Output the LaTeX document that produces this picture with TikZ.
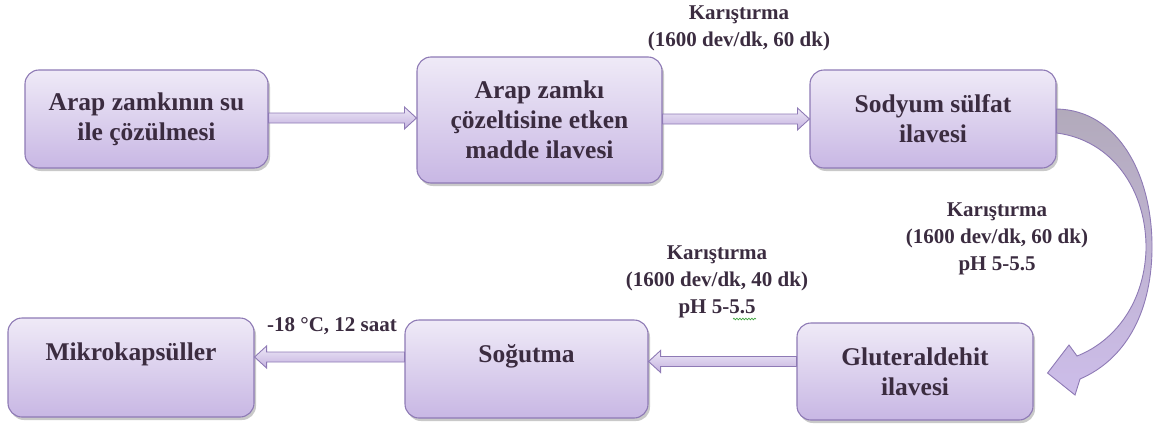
\documentclass[tikz,border=0pt]{standalone}
\usepackage{fontspec}
\setmainfont{Liberation Serif}
\usetikzlibrary{calc,shadows,decorations.pathmorphing}

\definecolor{boxtop}{HTML}{EFEAF7}
\definecolor{boxbot}{HTML}{C8B7E4}
\definecolor{boxline}{HTML}{8E7AB5}
\definecolor{arrtop}{HTML}{EEE8F7}
\definecolor{arrbot}{HTML}{C3B1DF}
\definecolor{ink}{HTML}{3B2C40}
\definecolor{curvegrey}{HTML}{B2AABB}
\definecolor{curvemid}{HTML}{BCB0CF}
\definecolor{curvebot}{HTML}{CDBDEA}
\definecolor{spell}{HTML}{3FA33F}

\tikzset{
  stepbox/.style={draw=boxline, line width=1.1pt, rounded corners=14pt,
    top color=boxtop, bottom color=boxbot, inner sep=0pt,
    drop shadow={shadow xshift=2pt, shadow yshift=-3pt, opacity=0.3, fill=black!70},
    text=ink, align=center, font=\fontsize{25.5}{30}\selectfont\bfseries},
  steplabel/.style={text=ink, align=center, inner sep=0pt,
    font=\fontsize{21}{27}\selectfont\bfseries},
  blockarrow/.style={draw=boxline, line width=0.9pt, top color=arrtop, bottom color=arrbot,
    to path={let \p1=(\tikztostart), \p2=(\tikztotarget),
      \n1={ifthenelse(\x2>\x1,1,-1)} in
      (\x1,\y1+5pt) -- ({\x2-\n1*12pt},\y1+5pt) -- ({\x2-\n1*12pt},\y1+11pt)
      -- (\x2,\y1) -- ({\x2-\n1*12pt},\y1-11pt) -- ({\x2-\n1*12pt},\y1-5pt)
      -- (\x1,\y1-5pt) -- cycle}},
  curvearrow/.style={draw=boxline, line width=0.9pt,
    top color=curvegrey, middle color=curvemid, bottom color=curvebot}
}

\begin{document}
\begin{tikzpicture}[x=1pt, y=-1pt]
  \useasboundingbox (0,0) rectangle (1155,423);

  % process steps
  \node[stepbox, minimum width=243pt, minimum height=98pt]  (b1) at (146.5,119)
    {Arap zamkının su\\ile çözülmesi};
  \node[stepbox, minimum width=245pt, minimum height=126pt] (b2) at (539.5,120)
    {Arap zamkı\\çözeltisine etken\\madde ilavesi};
  \node[stepbox, minimum width=246pt, minimum height=98pt]  (b3) at (933,119)
    {Sodyum sülfat\\ilavesi};
  \node[stepbox, minimum width=236pt, minimum height=97pt]  (b4) at (915,371.5)
    {Gluteraldehit\\ilavesi};
  \node[stepbox, minimum width=243pt, minimum height=98pt]  (b5) at (526.5,369)
    {Soğutma\\[-8pt]\strut};
  \node[stepbox, minimum width=246pt, minimum height=99pt]  (b6) at (131,367.5)
    {Mikrokapsüller\\[-8pt]\strut};

  % straight block arrows
  \draw[blockarrow] ([yshift=1pt]b1.east) to ([yshift=1pt]b2.west);
  \draw[blockarrow] ([yshift=1pt]b2.east) to ([yshift=1pt]b3.west);
  \draw[blockarrow] ([yshift=10pt]b4.west) to ([yshift=10pt]b5.east);
  \draw[blockarrow] ([yshift=12pt]b5.west) to ([yshift=12pt]b6.east);

  % curved arrow from sodium sulfate step down to glutaraldehyde step
  \coordinate (cs1) at ([yshift=10pt]b3.east);
  \coordinate (cs2) at ([yshift=-14pt]b3.east);
  \coordinate (tip) at ([xshift=14pt,yshift=-1.5pt]b4.east);
  \path[curvearrow] (cs1) .. controls (1118,110) and (1153,175) .. (1152,250)
    .. controls (1151,315) and (1124,360) .. (1080,379)
    -- (1075,395) -- (tip) -- (1069,345) -- (1077,356)
    .. controls (1113,342) and (1144,305) .. (1146,250)
    .. controls (1147,190) and (1112,140) .. (cs2) -- cycle;

  % process conditions
  \node[steplabel] (l1) at (739,28) {Karıştırma\\(1600 dev/dk, 60 dk)};
  \node[steplabel] (l2) at (997,238.5) {Karıştırma\\(1600 dev/dk, 60 dk)\\pH 5-5.5};
  \node[steplabel] (l3) at (717,282) {Karıştırma\\(1600 dev/dk, 40 dk)\\pH 5-5.5};
  \node[steplabel] (l4) at (332,326) {-18 °C, 12 saat};

  % spell-check underline under the last value
  \draw[spell, line width=0.7pt, decorate,
    decoration={snake, amplitude=0.8pt, segment length=3pt}] (733,319) -- (756,319);
\end{tikzpicture}
\end{document}
